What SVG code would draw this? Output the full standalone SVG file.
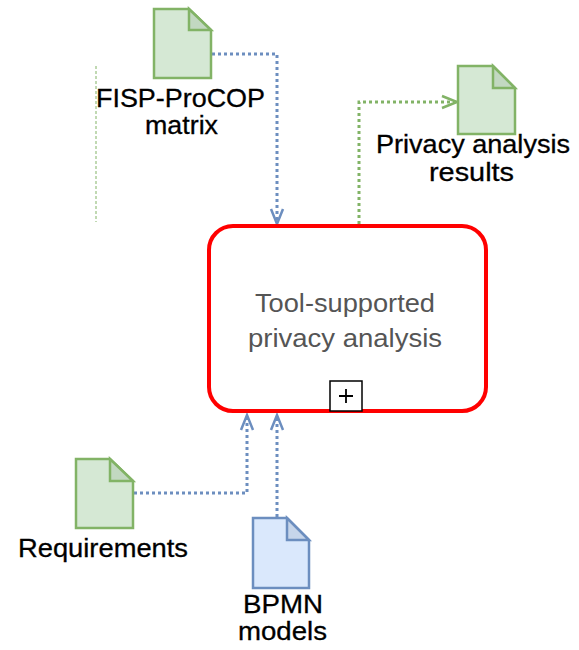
<svg xmlns="http://www.w3.org/2000/svg" width="579" height="650" viewBox="0 0 579 650">
  <style>
    .doc-g { fill: #d5e8d4; stroke: #82b366; stroke-width: 2.5; stroke-linejoin: miter; }
    .doc-b { fill: #dae8fc; stroke: #6c8ebf; stroke-width: 2.5; stroke-linejoin: miter; }
    .fold-g { fill: #c2d8c1; }
    .fold-b { fill: #c6d5ea; }
    .lbl { font-family: "Liberation Sans", Arial, sans-serif; font-size: 26px; fill: #000; stroke: #000; stroke-width: 0.3; text-anchor: middle; }
    .task { font-family: "Liberation Sans", Arial, sans-serif; font-size: 26px; fill: #555; text-anchor: middle; }
    .flow-b { fill: none; stroke: #6c8ebf; stroke-width: 3; stroke-dasharray: 3 3; }
    .flow-g { fill: none; stroke: #82b366; stroke-width: 3; stroke-dasharray: 3 3; }
    .head-b { fill: none; stroke: #6c8ebf; stroke-width: 2.5; }
    .head-g { fill: none; stroke: #82b366; stroke-width: 2.5; }
  </style>

  <!-- connectors -->
  <g id="connectors">
    <!-- FISP-ProCOP matrix -> task -->
    <path class="flow-b" d="M212 54 H277 V222"/>
    <path class="head-b" d="M271 209 L277 224 L283 209"/>
    <!-- task -> Privacy analysis results -->
    <path class="flow-g" d="M359 224 V102 H455"/>
    <path class="head-g" d="M442 96 L457 102 L442 108"/>
    <!-- Requirements -> task -->
    <path class="flow-b" d="M134 493 H247 V417"/>
    <path class="head-b" d="M241 430 L247 415 L253 430"/>
    <!-- BPMN models -> task -->
    <path class="flow-b" d="M277 517 V417"/>
    <path class="head-b" d="M271 430 L277 415 L283 430"/>
    <!-- thin guide line -->
    <path d="M96 66 V222" fill="none" stroke="#82b366" stroke-width="1" stroke-dasharray="3 2"/>
  </g>

  <!-- FISP-ProCOP matrix -->
  <g id="fisp-procop-matrix">
    <path class="doc-g" d="M154 9 H189 L211 30 V78 H154 Z"/>
    <path class="doc-g fold-g" d="M189 9 V30 H211 Z"/>
    <text class="lbl" x="180.5" y="107" textLength="169" lengthAdjust="spacingAndGlyphs">FISP-ProCOP</text>
    <text class="lbl" x="181.5" y="134" textLength="73" lengthAdjust="spacingAndGlyphs">matrix</text>
  </g>

  <!-- Privacy analysis results -->
  <g id="privacy-analysis-results">
    <path class="doc-g" d="M458 66 H493 L515 88 V134 H458 Z"/>
    <path class="doc-g fold-g" d="M493 66 V88 H515 Z"/>
    <text class="lbl" x="473" y="153" textLength="194" lengthAdjust="spacingAndGlyphs">Privacy analysis</text>
    <text class="lbl" x="471.5" y="181" textLength="85" lengthAdjust="spacingAndGlyphs">results</text>
  </g>

  <!-- Tool-supported privacy analysis (collapsed sub-process) -->
  <g id="tool-supported-privacy-analysis">
    <rect x="209" y="226" width="277" height="185" rx="24" ry="24" fill="#fff" stroke="#ff0000" stroke-width="4"/>
    <text class="task" x="345" y="312" textLength="180" lengthAdjust="spacingAndGlyphs">Tool-supported</text>
    <text class="task" x="345" y="347" textLength="194" lengthAdjust="spacingAndGlyphs">privacy analysis</text>
    <rect x="330" y="381" width="32" height="30" fill="#fff" stroke="#000" stroke-width="1.5"/>
    <path d="M339 396 H353 M346 389 V403" stroke="#000" stroke-width="1.8"/>
  </g>

  <!-- Requirements -->
  <g id="requirements">
    <path class="doc-g" d="M76 459 H110 L133 481 V528 H76 Z"/>
    <path class="doc-g fold-g" d="M110 459 V481 H133 Z"/>
    <text class="lbl" x="103" y="557" textLength="170" lengthAdjust="spacingAndGlyphs">Requirements</text>
  </g>

  <!-- BPMN models -->
  <g id="bpmn-models">
    <path class="doc-b" d="M253 518 H287 L309 540 V588 H253 Z"/>
    <path class="doc-b fold-b" d="M287 518 V540 H309 Z"/>
    <text class="lbl" x="283" y="613" textLength="80" lengthAdjust="spacingAndGlyphs">BPMN</text>
    <text class="lbl" x="282.5" y="640" textLength="89" lengthAdjust="spacingAndGlyphs">models</text>
  </g>
</svg>
